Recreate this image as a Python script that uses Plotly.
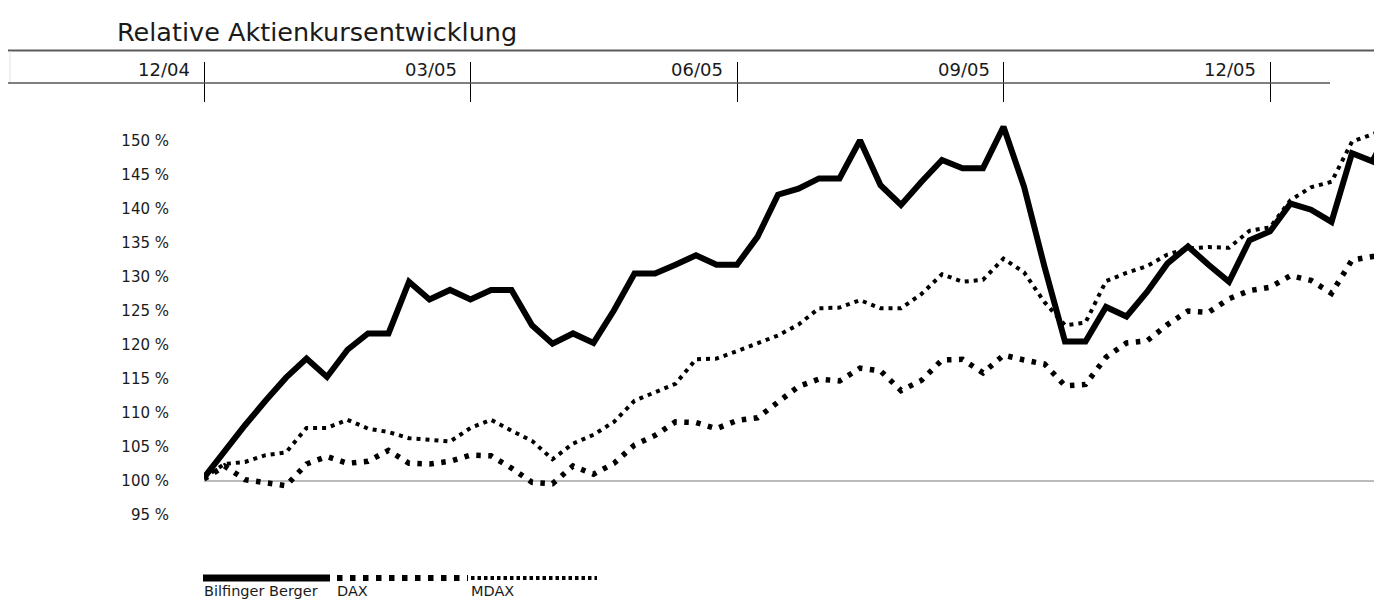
import plotly.graph_objects as go
from datetime import datetime, timedelta

# ---------------- data (weekly, relative to 31.12.2004 = 100 %) ----------------
start_date = datetime(2004, 12, 31)

bilfinger = [100.5, 104.5, 108.2, 111.8, 115.2, 118.0, 115.3, 119.3, 121.7, 121.7,
             129.3, 126.7, 128.1, 126.7, 128.1, 128.1, 122.9, 120.2, 121.7, 120.3,
             125.1, 130.5, 130.5, 131.8, 133.2, 131.8, 131.8, 135.9, 142.1, 143.0,
             144.5, 144.5, 150.1, 143.5, 140.6, 144.0, 147.2, 146.0, 146.0, 152.1,
             143.3, 131.5, 120.5, 120.5, 125.6, 124.2, 127.8, 132.0, 134.5, 131.8,
             129.3, 135.4, 136.7, 140.8, 139.9, 138.1, 148.2, 147.0, 153.0]

dax = [100.3, 102.2, 100.2, 99.7, 99.3, 102.5, 103.6, 102.6, 102.9, 104.5,
       102.6, 102.5, 102.9, 103.8, 103.7, 101.9, 99.8, 99.6, 102.2, 101.0,
       102.6, 105.3, 106.7, 108.7, 108.6, 107.7, 108.9, 109.3, 111.6, 113.9,
       115.0, 114.7, 116.6, 116.2, 113.3, 114.8, 117.8, 117.9, 115.9, 118.5,
       117.8, 117.2, 114.0, 114.2, 118.2, 120.3, 120.6, 123.0, 125.0, 124.8,
       126.8, 128.0, 128.5, 130.2, 129.5, 127.6, 132.5, 133.0, 133.2]

mdax = [100.5, 102.5, 102.8, 103.8, 104.2, 107.8, 107.8, 109.0, 107.7, 107.2,
        106.3, 106.1, 105.8, 107.8, 109.0, 107.4, 105.9, 103.2, 105.5, 106.8,
        108.7, 111.8, 113.0, 114.3, 117.9, 118.0, 119.1, 120.2, 121.4, 123.0,
        125.4, 125.5, 126.6, 125.4, 125.4, 127.5, 130.4, 129.3, 129.6, 132.7,
        130.7, 126.3, 122.9, 123.3, 129.4, 130.6, 131.6, 133.3, 134.2, 134.4,
        134.3, 136.8, 137.3, 141.3, 143.2, 144.0, 149.9, 151.0, 152.0]

series_names = ["Bilfinger Berger", "DAX", "MDAX"]

x_tick_dates = [datetime(2004, 12, 31), datetime(2005, 4, 1), datetime(2005, 7, 1),
                datetime(2005, 9, 30), datetime(2005, 12, 30)]
x_tick_labels = ["12/04", "03/05", "06/05", "09/05", "12/05"]

y_tick_vals = [95, 100, 105, 110, 115, 120, 125, 130, 135, 140, 145, 150]
y_tick_labels = [f"{v} %" for v in y_tick_vals]

title_text = "Relative Aktienkursentwicklung"

# ---------------- figure ----------------
dates = [start_date + timedelta(days=7 * i) for i in range(len(bilfinger))]

OFF = 8                       # page body margin of the html page
W, H = 1382 - OFF, 600 - OFF
ML, MR, MT, MB = 204 - OFF, 0, 103 - OFF, 60
plot_w = W - ML - MR
plot_h = H - MT - MB
PLOT_BOTTOM = 540             # in window pixels
FONT = "DejaVu Sans"
TXT = "#1a1a1a"


def py(pix):
    """window pixel row -> paper y"""
    return (PLOT_BOTTOM - pix) / plot_h


def px(pix):
    """window pixel column -> paper x"""
    return (pix - 204) / plot_w


fig = go.Figure()
fig.add_trace(go.Scatter(x=dates, y=mdax, mode="lines", name=series_names[2],
                         line=dict(color="black", width=4, dash="4px,5px")))
fig.add_trace(go.Scatter(x=dates, y=dax, mode="lines", name=series_names[1],
                         line=dict(color="black", width=5.5, dash="4.5px,7.5px")))
fig.add_trace(go.Scatter(x=dates, y=bilfinger, mode="lines", name=series_names[0],
                         line=dict(color="black", width=6)))

x_end = start_date + timedelta(days=plot_w / 20.5 * 7)

shapes = []
# 100 % reference line
shapes.append(dict(type="line", xref="paper", yref="y", x0=0, x1=1, y0=100, y1=100,
                   line=dict(color="#7a7a7a", width=1.2), layer="below"))
# top band
shapes.append(dict(type="line", xref="paper", yref="paper", x0=px(8), x1=1,
                   y0=py(50.5), y1=py(50.5), line=dict(color="#5a5a5a", width=2)))
shapes.append(dict(type="line", xref="paper", yref="paper", x0=px(8), x1=px(1330),
                   y0=py(83), y1=py(83), line=dict(color="#555", width=1.5)))
shapes.append(dict(type="line", xref="paper", yref="paper", x0=px(10), x1=px(10),
                   y0=py(51), y1=py(82), line=dict(color="#e2e2e2", width=1)))

# legend samples
leg_y = py(578)
shapes.append(dict(type="line", xref="paper", yref="paper", x0=px(203), x1=px(330),
                   y0=leg_y, y1=leg_y, line=dict(color="black", width=7)))
shapes.append(dict(type="line", xref="paper", yref="paper", x0=px(337), x1=px(468),
                   y0=leg_y, y1=leg_y, line=dict(color="black", width=6, dash="5.5px,7.5px")))
shapes.append(dict(type="line", xref="paper", yref="paper", x0=px(471), x1=px(597),
                   y0=leg_y, y1=leg_y, line=dict(color="black", width=4, dash="3.5px,3px")))

annotations = []
for d, lab in zip(x_tick_dates, x_tick_labels):
    annotations.append(dict(x=d, xref="x", y=py(70), yref="paper", text=lab,
                            showarrow=False, xanchor="right", yanchor="middle",
                            xshift=-12, font=dict(family=FONT, size=18, color=TXT)))
for xp, name in zip([204, 337, 471], series_names):
    annotations.append(dict(x=px(xp), xref="paper", y=py(591), yref="paper", text=name,
                            showarrow=False, xanchor="left", yanchor="middle",
                            xshift=-2, font=dict(family=FONT, size=14.5, color=TXT)))

fig.update_layout(
    width=W, height=H,
    margin=dict(l=ML, r=MR, t=MT, b=MB, pad=0),
    paper_bgcolor="white", plot_bgcolor="white",
    showlegend=False,
    font=dict(family=FONT, color=TXT),
    title=dict(text=title_text, x=(117 - OFF) / W, xanchor="left",
               y=1 - (32 - OFF) / H, yanchor="middle",
               font=dict(family=FONT, size=25.5, color=TXT)),
    xaxis=dict(type="date", range=[start_date, x_end], side="top",
               tickvals=x_tick_dates, ticktext=[""] * len(x_tick_dates),
               ticks="outside", ticklen=40, tickwidth=1, tickcolor="black",
               showgrid=False, zeroline=False, showline=False, fixedrange=True),
    yaxis=dict(range=[100 - (PLOT_BOTTOM - 481) / 6.8, 100 + (481 - 103) / 6.8],
               tickvals=y_tick_vals, ticktext=y_tick_labels,
               ticks="", showgrid=False, zeroline=False, showline=False,
               ticklabelstandoff=34,
               tickfont=dict(family=FONT, size=15, color=TXT)),
    shapes=shapes,
    annotations=annotations,
)

fig.write_html("out.html")
